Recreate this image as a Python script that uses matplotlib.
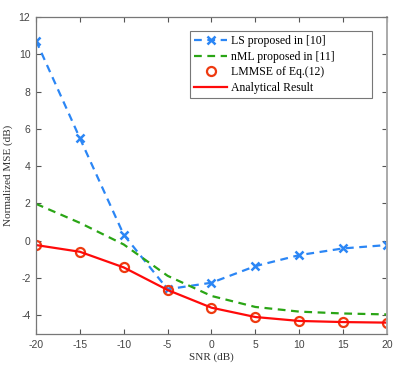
import matplotlib
matplotlib.use("Agg")
import matplotlib.pyplot as plt

plt.rcParams['axes.unicode_minus'] = False

snr = [-20, -15, -10, -5, 0, 5, 10, 15, 20]
ls_mse = [10.73, 5.5, 0.32, -2.6, -2.25, -1.36, -0.77, -0.41, -0.23]
nml_mse = [1.98, 0.96, -0.2, -1.88, -2.96, -3.55, -3.8, -3.9, -3.95]
lmmse = [-0.23, -0.59, -1.43, -2.64, -3.59, -4.09, -4.30, -4.36, -4.39]
analytical = [-0.23, -0.59, -1.43, -2.64, -3.59, -4.09, -4.30, -4.36, -4.39]
xticks = [-20, -15, -10, -5, 0, 5, 10, 15, 20]
yticks = [-4, -2, 0, 2, 4, 6, 8, 10, 12]

fig = plt.figure(figsize=(4.06, 3.66), dpi=100)
ax = fig.add_axes([36/406, 1-334/366, (387-36)/406, (334-17)/366])

ax.plot(snr, ls_mse, linestyle=(0, (3.5, 2.5)), color='#2b86f5', lw=1.6,
        marker='x', markersize=6, markeredgewidth=1.8, label='LS proposed in [10]')
ax.plot(snr, nml_mse, linestyle=(0, (3.5, 2.5)), color='#2aa515', lw=1.6,
        label='nML proposed in [11]')
ax.plot(snr, lmmse, linestyle='none', marker='o', markersize=6.5,
        markerfacecolor='none', markeredgecolor='#ee3a10', markeredgewidth=1.6,
        label='LMMSE of Eq.(12)')
ax.plot(snr, analytical, color='#ff0a0a', lw=1.6, label='Analytical Result')

ax.set_xlim(-20, 20)
ax.set_ylim(-5, 12)
ax.set_xticks(xticks)
ax.set_yticks(yticks)
ax.tick_params(direction='in', top=True, right=True, length=3.5, width=0.8,
               labelsize=7.5, colors='#555555', labelcolor='#444444', pad=4)
for lab in ax.get_xticklabels() + ax.get_yticklabels():
    lab.set_family(['Liberation Sans', 'DejaVu Sans'])
for s in ax.spines.values():
    s.set_color('#777777')
    s.set_linewidth(0.9)
ax.spines['right'].set_color('#aaaaaa')
ax.spines['right'].set_linewidth(1.4)

serif = ['Liberation Serif', 'DejaVu Serif']
ax.set_xlabel('SNR (dB)', family=serif, fontsize=8, color='#333333', labelpad=2)
ax.set_ylabel('Normalized MSE (dB)', family=serif, fontsize=8, color='#333333', labelpad=4)

leg = ax.legend(loc='upper left', bbox_to_anchor=(190/406, 1-96/366, 182/406, 65/366),
                bbox_transform=fig.transFigure, mode='expand',
                prop={'family': serif, 'size': 8.5}, frameon=True, fancybox=False,
                edgecolor='#555555', borderpad=0.35, labelspacing=0.3,
                handlelength=2.8, handletextpad=0.3, borderaxespad=0)
leg.get_frame().set_linewidth(0.8)

fig.savefig('out.png', dpi=100)
